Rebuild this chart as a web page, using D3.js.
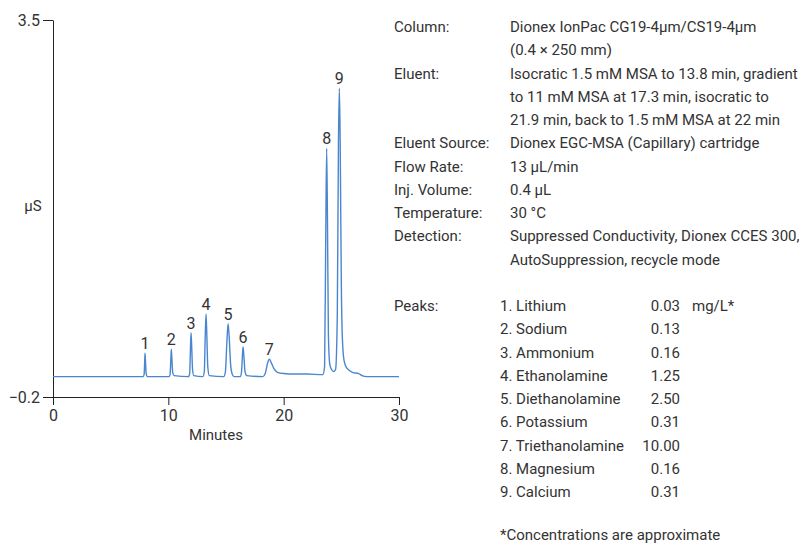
<!DOCTYPE html>
<head>
  <meta charset="utf-8">
  <title>Cation chromatogram</title>
  <script src="https://cdn.jsdelivr.net/npm/d3@7"></script>
  <style>
    body { margin: 0; background: #fff; }
    svg text { font-family: Roboto, "Liberation Sans", sans-serif; fill: #333; }
  </style>
</head>
<body>
<svg width="805" height="548"></svg>
<script>
// trace: [minutes, µS]
var trace = [
  [0, 0.0], [7.8, 0.0], [7.9, 0.02], [7.95, 0.15], [7.98, 0.23], [8.02, 0.15], [8.08, 0.03], [8.2, 0.0],
  [10.05, 0.0], [10.15, 0.02], [10.22, 0.18], [10.26, 0.27], [10.31, 0.17], [10.38, 0.04], [10.5, 0.01],
  [11.75, 0.0], [11.85, 0.03], [11.92, 0.28], [11.97, 0.43], [12.03, 0.28], [12.1, 0.07], [12.2, 0.01],
  [13.0, 0.0], [13.12, 0.05], [13.2, 0.4], [13.27, 0.615], [13.34, 0.4], [13.42, 0.1], [13.55, 0.01],
  [14.8, 0.0], [14.95, 0.05], [15.08, 0.35], [15.18, 0.52], [15.28, 0.38], [15.4, 0.12], [15.55, 0.02], [15.7, 0.0],
  [16.25, 0.0], [16.35, 0.05], [16.43, 0.22], [16.48, 0.29], [16.55, 0.2], [16.65, 0.05], [16.8, 0.01],
  [18.2, 0.0], [18.4, 0.03], [18.6, 0.13], [18.76, 0.17], [18.95, 0.13], [19.2, 0.07], [19.5, 0.04], [20, 0.03],
  [21, 0.025], [22, 0.025], [23.4, 0.02],
  [23.55, 0.1], [23.65, 1.4], [23.73, 2.24], [23.8, 1.5], [23.88, 0.4], [24.0, 0.12], [24.15, 0.07], [24.35, 0.05],
  [24.5, 0.07], [24.65, 0.6], [24.75, 2.3], [24.83, 2.83], [24.9, 2.3], [25.0, 0.9], [25.1, 0.35], [25.25, 0.15],
  [25.5, 0.08], [26.0, 0.04], [26.5, 0.03], [26.8, 0.01], [27.2, 0.0], [30, 0.0]
]

var peakNums = ['1', '2', '3', '4', '5', '6', '7', '8', '9']
var peakTimes = [7.98, 10.26, 11.97, 13.27, 15.18, 16.48, 18.76, 23.73, 24.83]
var peakTops = [0.23, 0.27, 0.43, 0.615, 0.52, 0.29, 0.17, 2.24, 2.83]

var xTicks = [0, 10, 20, 30]
var yTicks = [-0.2, 3.5]

var condLabels = ['Column:', '', 'Eluent:', '', '', 'Eluent Source:', 'Flow Rate:', 'Inj. Volume:', 'Temperature:', 'Detection:', '']
var condValues = [
  'Dionex IonPac CG19-4µm/CS19-4µm',
  '(0.4 × 250 mm)',
  'Isocratic 1.5 mM MSA to 13.8 min, gradient',
  'to 11 mM MSA at 17.3 min, isocratic to',
  '21.9 min, back to 1.5 mM MSA at 22 min',
  'Dionex EGC-MSA (Capillary) cartridge',
  '13 µL/min',
  '0.4 µL',
  '30 °C',
  'Suppressed Conductivity, Dionex CCES 300,',
  'AutoSuppression, recycle mode'
]
var peakNames = ['1. Lithium', '2. Sodium', '3. Ammonium', '4. Ethanolamine', '5. Diethanolamine',
  '6. Potassium', '7. Triethanolamine', '8. Magnesium', '9. Calcium']
var peakConc = ['0.03', '0.13', '0.16', '1.25', '2.50', '0.31', '10.00', '0.16', '0.31']

var svg = d3.select('svg')

var x = d3.scaleLinear().domain([0, 30]).range([53, 399])
var y = d3.scaleLinear().domain([-0.2, 3.5]).range([397, 20])

svg.append('g')
  .attr('transform', 'translate(0,397)')
  .call(d3.axisBottom(x).tickValues(xTicks).tickSize(8).tickSizeOuter(0).tickPadding(5))
  .call(function (g) {
    g.selectAll('text').style('font-size', '16px').attr('fill', '#333')
    g.selectAll('path, line').attr('stroke', '#222')
  })

svg.append('g')
  .attr('transform', 'translate(53,0)')
  .call(d3.axisLeft(y).tickValues(yTicks).tickSize(10).tickSizeOuter(0).tickPadding(3))
  .call(function (g) {
    g.selectAll('text').style('font-size', '16px').attr('fill', '#333')
    g.selectAll('path, line').attr('stroke', '#222')
  })

svg.append('text').attr('x', 216).attr('y', 440).attr('text-anchor', 'middle')
  .style('font-size', '15px').text('Minutes')
svg.append('text').attr('x', 33).attr('y', 211).attr('text-anchor', 'middle')
  .style('font-size', '15px').text('µS')

var line = d3.line()
  .x(function (d) { return x(d[0]) })
  .y(function (d) { return y(d[1]) })
  .curve(d3.curveMonotoneX)

svg.append('path').datum(trace)
  .attr('d', line)
  .attr('fill', 'none')
  .attr('stroke', '#4a86cf')
  .attr('stroke-width', 1.4)

svg.selectAll('.pk').data(peakNums).enter().append('text')
  .attr('class', 'pk')
  .attr('x', function (d, i) { return x(peakTimes[i]) })
  .attr('y', function (d, i) { return y(peakTops[i]) - 4 })
  .attr('text-anchor', 'middle')
  .style('font-size', '16px')
  .text(function (d) { return d })

// conditions block
var pitch = 23.25, top0 = 32
var info = svg.append('g').style('font-size', '15px')
condLabels.forEach(function (t, i) {
  info.append('text').attr('x', 394).attr('y', top0 + i * pitch).text(t)
  info.append('text').attr('x', 510).attr('y', top0 + i * pitch).text(condValues[i])
})

info.append('text').attr('x', 394).attr('y', top0 + 12 * pitch).text('Peaks:')
peakNames.forEach(function (t, i) {
  var yy = top0 + (12 + i) * pitch
  info.append('text').attr('x', 500).attr('y', yy).text(t)
  info.append('text').attr('x', 680).attr('y', yy).attr('text-anchor', 'end').text(peakConc[i])
})
info.append('text').attr('x', 692).attr('y', top0 + 12 * pitch).text('mg/L*')
info.append('text').attr('x', 500).attr('y', 540).text('*Concentrations are approximate')
</script>
</body>
